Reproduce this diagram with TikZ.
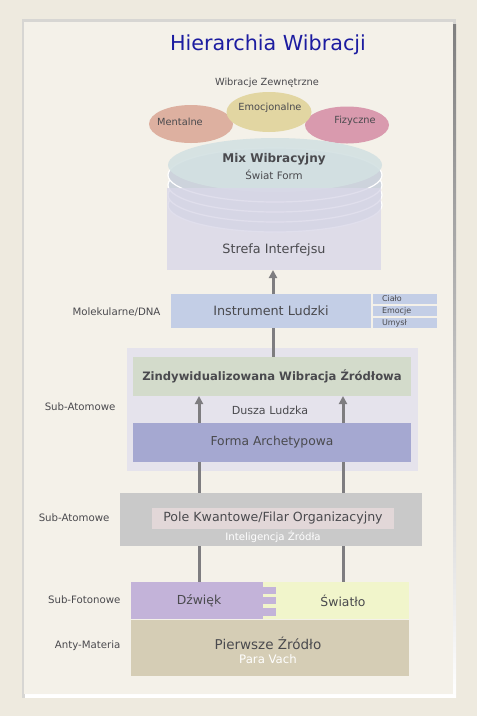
\documentclass[tikz,border=0pt]{standalone}
\usepackage{fontspec}
\setmainfont{DejaVu Sans}
\usetikzlibrary{shapes.geometric,arrows.meta}
\definecolor{backdrop}{HTML}{EEEADF}
\definecolor{paper}{HTML}{F4F1E9}
\definecolor{shade}{HTML}{8E8A80}
\definecolor{ink}{HTML}{4A4A4E}
\definecolor{titleblue}{HTML}{1C1CA0}
\definecolor{pillargray}{HTML}{7E7D80}
\definecolor{mentalc}{HTML}{DDB0A0}
\definecolor{emoc}{HTML}{E2D6A2}
\definecolor{fizc}{HTML}{D99AAE}
\definecolor{mixc}{HTML}{D3E1E2}
\definecolor{discc}{HTML}{CDD3DC}
\definecolor{strefac}{HTML}{D9D7E8}
\definecolor{instrc}{HTML}{C3CEE6}
\definecolor{soulc}{HTML}{E5E3EC}
\definecolor{greenc}{HTML}{D3DBCB}
\definecolor{archc}{HTML}{A5A8D1}
\definecolor{polec}{HTML}{C9C9C9}
\definecolor{poleinc}{HTML}{E2D7D8}
\definecolor{soundc}{HTML}{C3B3D9}
\definecolor{lightc}{HTML}{F1F5CB}
\definecolor{sourcec}{HTML}{D5CDB5}
\tikzset{
  box/.style={rectangle, inner sep=0pt, outer sep=0pt},
  main/.style={text=ink, font=\fontsize{12.8}{14}\selectfont},
  small/.style={text=ink, font=\fontsize{9.8}{11}\selectfont},
  lbl/.style={anchor=east, text=ink, font=\fontsize{10.2}{12}\selectfont},
  sidebox/.style={box, fill=instrc, minimum width=64pt, minimum height=10pt, text width=46pt, text=ink, font=\fontsize{8}{9}\selectfont},
  pillar/.style={line width=3pt, draw=pillargray},
  riser/.style={pillar, -{Triangle[width=8pt,length=8pt]}},
  disc/.style={ellipse, inner sep=0pt, minimum width=214pt, minimum height=54pt, fill=discc, draw=white, line width=1.2pt}
}
\begin{document}
\begin{tikzpicture}[x=1pt,y=-1pt]
	\useasboundingbox (0,0) rectangle (477,716);
	\fill[backdrop] (0,0) rectangle (477,716);
	\fill[shade!35] (22,19) rectangle (456,698);
	\fill[shade] (25,24) rectangle (456,697);
	\fill[paper] (24,22) rectangle (453,694);
	\node[text=titleblue, font=\fontsize{20.7}{23}\selectfont] (title) at (268,45) {Hierarchia Wibracji};
	\node[small] (outer) at (267,83) {Wibracje Zewnętrzne};
	\node[ellipse, fill=mentalc, minimum width=84pt, minimum height=38pt] (mental) at (191,124) {};
	\node[ellipse, fill=fizc, minimum width=84pt, minimum height=37pt] (fiz) at (347,125) {};
	\node[ellipse, fill=emoc, minimum width=85pt, minimum height=40pt] (emo) at (269,112) {};
	\node[small] at (180,122) {Mentalne};
	\node[small] at (270,108) {Emocjonalne};
	\node[small] at (355,121) {Fizyczne};
	\foreach \dy in {40,30,20,10}
		\node[disc] at (275,165+\dy) {};
	\node[disc, fill=mixc, draw=none, opacity=0.9] (mix) at (275,165) {};
	\node[text=ink, font=\bfseries\fontsize{12}{14}\selectfont] at (274,159) {Mix Wibracyjny};
	\node[small, font=\fontsize{10.3}{12}\selectfont] at (274,175) {Świat Form};
	\node[box, fill=strefac, opacity=0.8, minimum width=214pt, minimum height=82pt] (strefa) at (274,229) {};
	\node[main] at (274,250) {Strefa Interfejsu};
	\node[box, fill=instrc, minimum width=200pt, minimum height=34pt, main] (instr) at (271,311) {Instrument Ludzki};
	\node[sidebox] (cialo) at (405,299) {Ciało};
	\node[sidebox] (emocje) at (405,311) {Emocje};
	\node[sidebox] (umysl) at (405,323) {Umysł};
	\node[lbl] at (164,312) {Molekularne/DNA};
	\node[box, fill=soulc, minimum width=291pt, minimum height=123pt] (soul) at (272.5,409.5) {};
	\node[box, fill=greenc, minimum width=278pt, minimum height=39pt, text=ink, font=\bfseries\fontsize{11.6}{13}\selectfont] (zind) at (272,376.5) {Zindywidualizowana Wibracja Źródłowa};
	\node[text=ink, font=\fontsize{11.1}{13}\selectfont] at (270,410) {Dusza Ludzka};
	\node[box, fill=archc, minimum width=278pt, minimum height=39pt, main, font=\fontsize{12.3}{14}\selectfont] (forma) at (272,442.5) {Forma Archetypowa};
	\node[lbl] at (119,407) {Sub-Atomowe};
	\node[box, fill=polec, minimum width=302pt, minimum height=53pt] (pole) at (271,519.5) {};
	\node[box, fill=poleinc, minimum width=242pt, minimum height=21pt, main, font=\fontsize{12.6}{14}\selectfont] (polein) at (273,518.5) {Pole Kwantowe/Filar Organizacyjny};
	\node[text=white, font=\fontsize{10.2}{12}\selectfont] at (273,537) {Inteligencja Źródła};
	\node[lbl] at (113,518) {Sub-Atomowe};
	\node[box, fill=soundc, minimum width=132pt, minimum height=37pt] (dzwiek) at (197,600.5) {};
	\node[box, fill=lightc, minimum width=146pt, minimum height=37pt] (swiatlo) at (336,600.5) {};
	\foreach \ya/\yb in {587/594,597/604,608/616}
		\fill[soundc] (263,\ya) rectangle (276,\yb);
	\node[box, fill=sourcec, minimum width=278pt, minimum height=56pt] (zrodlo) at (270,648) {};
	\node[main, font=\fontsize{13.5}{15}\selectfont] at (268,643) {Pierwsze Źródło};
	\node[text=white, font=\fontsize{11.7}{13}\selectfont] at (268,659) {Para Vach};
	\node[lbl] at (124,600) {Sub-Fotonowe};
	\node[lbl] at (124,646) {Anty-Materia};
	\coordinate (colL) at (199,0);
	\coordinate (colM) at (273,0);
	\coordinate (colR) at (343,0);
	\node[main, font=\fontsize{12.4}{14}\selectfont] at (dzwiek -| colL) {Dźwięk};
	\node[main, font=\fontsize{12.4}{14}\selectfont] at (swiatlo -| colR) {Światło};
	\draw[riser] (instr.north -| colM) -- (strefa.south -| colM);
	\draw[pillar] (instr.south -| colM) -- (zind.north -| colM);
	\draw[riser] (forma.north -| colL) -- (zind.south -| colL);
	\draw[riser] (forma.north -| colR) -- (zind.south -| colR);
	\draw[pillar] (forma.south -| colL) -- (pole.north -| colL);
	\draw[pillar] (forma.south -| colR) -- (pole.north -| colR);
	\draw[pillar] (pole.south -| colL) -- (dzwiek.north -| colL);
	\draw[pillar] (pole.south -| colR) -- (swiatlo.north -| colR);
\end{tikzpicture}
\end{document}
